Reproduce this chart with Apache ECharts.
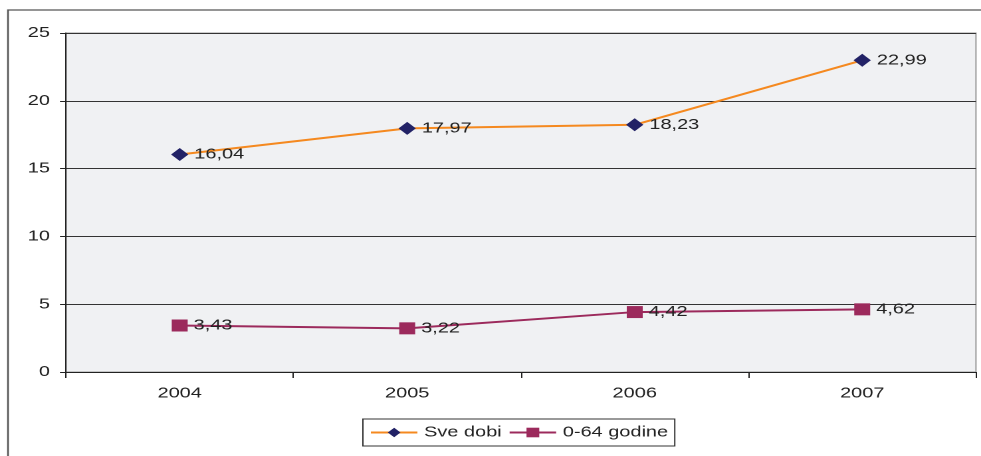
<!DOCTYPE html>
<html>
<head>
<meta charset="utf-8">
<script src="https://cdn.jsdelivr.net/npm/echarts@6/dist/echarts.min.js"></script>
<style>
  html, body { margin: 0; padding: 0; background: #fff; overflow: hidden; }
  /* The chart is laid out narrow and widened horizontally, giving the wide lettering */
  #chart { width: 738px; height: 456px; transform: scaleX(1.3293); transform-origin: 0 0; }
</style>
</head>
<body>
<div id="chart"></div>
<script>
// Years on the category axis
const years = ['2004', '2005', '2006', '2007'];
// Rates for all ages and for ages 0-64
const sveDobi = [16.04, 17.97, 18.23, 22.99];
const godine064 = [3.43, 3.22, 4.42, 4.62];
// Value axis range
const yMin = 0, yMax = 25, yStep = 5;

const fmt = p => p.value.toFixed(2).replace('.', ',');
const font = 'Liberation Sans, Arial, Helvetica, sans-serif';
const fs = 15;

const chart = echarts.init(document.getElementById('chart'), null, { devicePixelRatio: 2 });
chart.setOption({
  animation: false,
  textStyle: { fontFamily: font },
  graphic: [{
    type: 'rect',
    shape: { x: 6, y: 10, width: 800, height: 500 },
    style: { fill: 'none', stroke: '#555', lineWidth: 1.3 },
    z: -10
  }],
  grid: {
    left: 49.6, top: 33, right: 3.8, bottom: 84,
    show: true, backgroundColor: '#f0f1f3', borderColor: '#999', borderWidth: 1
  },
  legend: {
    top: 419, left: 273,
    itemWidth: 35, itemHeight: 12, itemGap: 5,
    padding: [6, 5, 6, 5],
    borderColor: '#333', borderWidth: 1,
    textStyle: { fontSize: fs, color: '#222', fontFamily: font },
    data: ['Sve dobi', '0-64 godine']
  },
  xAxis: {
    type: 'category', data: years, boundaryGap: true,
    axisLine: { lineStyle: { color: '#222' } },
    axisTick: { show: true, length: 6, lineStyle: { color: '#222' } },
    axisLabel: { fontSize: fs, color: '#222', margin: 14, fontFamily: font }
  },
  yAxis: {
    type: 'value', min: yMin, max: yMax, interval: yStep,
    axisLine: { show: true, lineStyle: { color: '#222' } },
    axisTick: { show: true, length: 4.5, lineStyle: { color: '#222' } },
    axisLabel: { fontSize: fs, color: '#222', margin: 12, fontFamily: font },
    splitLine: { lineStyle: { color: '#333', width: 1 } }
  },
  series: [
    {
      name: 'Sve dobi', type: 'line', data: sveDobi,
      symbol: 'diamond', symbolSize: 13,
      lineStyle: { color: '#f5891f', width: 2 },
      itemStyle: { color: '#222266' },
      label: { show: true, position: 'right', distance: 4.5, fontSize: fs, color: '#222', fontFamily: font, formatter: fmt }
    },
    {
      name: '0-64 godine', type: 'line', data: godine064,
      symbol: 'rect', symbolSize: 12,
      lineStyle: { color: '#9c2a5c', width: 2 },
      itemStyle: { color: '#9c2a5c' },
      label: { show: true, position: 'right', distance: 4.5, fontSize: fs, color: '#222', fontFamily: font, formatter: fmt }
    }
  ]
});
</script>
</body>
</html>
